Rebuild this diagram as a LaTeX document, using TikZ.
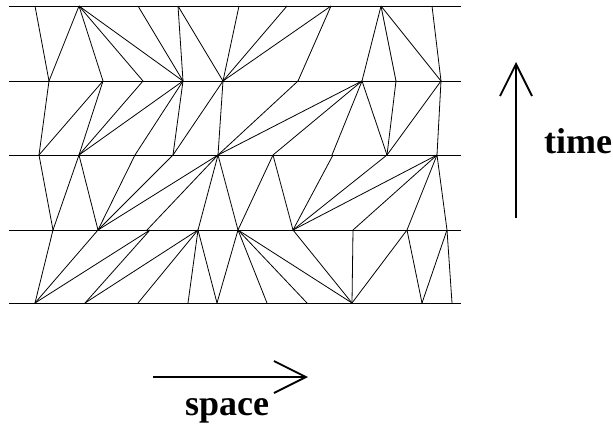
\documentclass[tikz,border=0pt]{standalone}
\usepackage{fontspec}
\setmainfont{Liberation Serif}
\usetikzlibrary{arrows.meta}
\begin{document}
\begin{tikzpicture}[x=1pt,y=-1pt,line width=0.8pt,
    mesh/.style={line width=0.8pt},
    axisarrow/.style={line width=1.8pt,-{Straight Barb[length=32pt,width=32pt,line width=1.8pt]}},
    axislabel/.style={font=\fontsize{36}{40}\selectfont\bfseries,inner sep=0pt}]
    \useasboundingbox (0,0) rectangle (613,429);
    % time levels
    \foreach \y in {6,81,155,230,303} \draw[line width=1pt] (9,\y) -- (461,\y);
    % slab 1
    \foreach \a/\b in {35/49,79/49,79/103,79/143,79/183,138/183,178/183,178/223,239/223,287/223,331/223,331/298,381/362,381/396,381/441,432/441}
      \draw[mesh] (\a,6) -- (\b,81);
    % slab 2
    \foreach \a/\b in {49/39,103/39,103/79,143/79,183/79,183/135,183/173,223/173,223/218,298/218,362/218,362/273,362/332,362/387,396/387,441/387,441/437}
      \draw[mesh] (\a,81) -- (\b,155);
    % slab 3
    \foreach \a/\b in {39/53,79/53,79/98,135/98,173/98,218/98,218/147,218/198,218/238,273/238,273/293,333/293,387/293,437/293,437/353,437/407,437/447}
      \draw[mesh] (\a,155) -- (\b,230);
    % slab 4
    \foreach \a/\b in {53/35,98/35,150/35,150/85,198/85,198/138,198/188,198/217,238/217,238/267,238/307,238/352,293/352,353/352,407/352,407/422,447/422,447/452}
      \draw[mesh] (\a,230) -- (\b,303);
    % axes
    \coordinate (tbot) at (516,218);
    \coordinate (ttop) at (516,62);
    \draw[axisarrow] (tbot) -- (ttop);
    \node[axislabel,anchor=base] (time) at (578,153) {time};
    \coordinate (sleft) at (153,377);
    \coordinate (sright) at (308,377);
    \draw[axisarrow] (sleft) -- (sright);
    \node[axislabel,anchor=base] (space) at (227,415) {space};
\end{tikzpicture}
\end{document}
